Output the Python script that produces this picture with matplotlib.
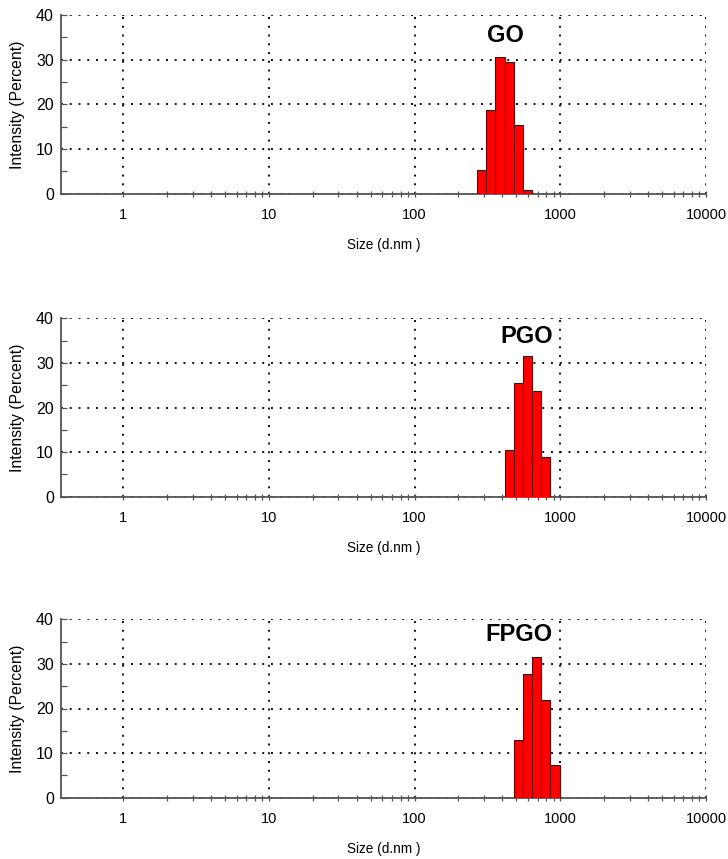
import numpy as np
import matplotlib
matplotlib.use("Agg")
import matplotlib.pyplot as plt
from matplotlib.ticker import FixedLocator, NullFormatter, FuncFormatter

plt.rcParams['font.family'] = ['Liberation Sans', 'DejaVu Sans']

# Size classes (lower bin edge, d.nm) and intensity (%) for each sample
go_sizes = [268.7, 310.6, 358.9, 414.7, 479.2, 553.7]
go_intensity = [5.2, 18.8, 30.5, 29.4, 15.4, 0.8]

pgo_sizes = [414.7, 479.2, 553.7, 640.1, 739.8]
pgo_intensity = [10.4, 25.6, 31.6, 23.8, 8.8]

fpgo_sizes = [479.2, 553.7, 640.1, 739.8, 855.1]
fpgo_intensity = [12.9, 27.8, 31.6, 21.9, 7.3]

samples = ["GO", "PGO", "FPGO"]
x_ticks = [1, 10, 100, 1000, 10000]
x_ticklabels = ["1", "10", "100", "1000", "10000"]
y_ticks = [0, 10, 20, 30, 40]

# Malvern-style log size classes: 70 classes from 0.4 to 10000 nm
class_ratio = 10 ** (np.log10(10000 / 0.4) / 70)
x_minor = [m * d for d in [1, 10, 100, 1000] for m in range(2, 10)]

fig = plt.figure(figsize=(7.28, 8.59), dpi=100)
W, H = 728, 859
left_px, right_px = 60.7, 706.0
axes_px = [(15.0, 193.7), (318.3, 496.7), (619.3, 797.7)]
title_pos = [(423, 35.5), (592, 35.9), (519, 36.5)]

data = [(go_sizes, go_intensity), (pgo_sizes, pgo_intensity), (fpgo_sizes, fpgo_intensity)]

for (top, bot), (sizes, vals), name, tpos in zip(axes_px, data, samples, title_pos):
    ax = fig.add_axes([left_px / W, 1 - bot / H, (right_px - left_px) / W, (bot - top) / H])
    sizes = np.array(sizes)
    widths = sizes * (class_ratio - 1)
    ax.bar(sizes, vals, width=widths, align='edge', color='#ff0000',
           edgecolor='#6a0000', linewidth=0.8, zorder=3)
    ax.set_xscale('log')
    ax.set_xlim(0.372, 10000)
    ax.set_ylim(0, 40)
    ax.xaxis.set_major_locator(FixedLocator(x_ticks))
    ax.xaxis.set_major_formatter(FuncFormatter(
        lambda v, p: x_ticklabels[x_ticks.index(int(round(v)))] if int(round(v)) in x_ticks else ""))
    ax.xaxis.set_minor_locator(FixedLocator(x_minor))
    ax.xaxis.set_minor_formatter(NullFormatter())
    ax.set_yticks(y_ticks)
    ax.yaxis.set_minor_locator(FixedLocator([5, 15, 25, 35]))
    for s in ['top', 'right']:
        ax.spines[s].set_visible(False)
    for s in ['left', 'bottom']:
        ax.spines[s].set_color('#555555')
        ax.spines[s].set_linewidth(1.3)
    ax.grid(True, which='major', color='#111111', linestyle=(0, (1, 3.5)), linewidth=1.4, zorder=1)
    ax.tick_params(axis='x', which='both', direction='inout', length=5, width=0.9,
                   color='#555555', labelsize=10.5, pad=8)
    ax.tick_params(axis='y', which='both', direction='in', length=4, width=0.9,
                   color='#555555', labelsize=11.5, pad=5)
    ax.set_xlabel('Size (d.nm )', fontsize=9.8, labelpad=11)
    ax.set_ylabel('Intensity (Percent)', fontsize=11.3, labelpad=8)
    ax.text(tpos[0], tpos[1], name, fontsize=17, fontweight='bold', ha='center', va='center', zorder=4)

fig.savefig('out.png', dpi=100, facecolor='white')
